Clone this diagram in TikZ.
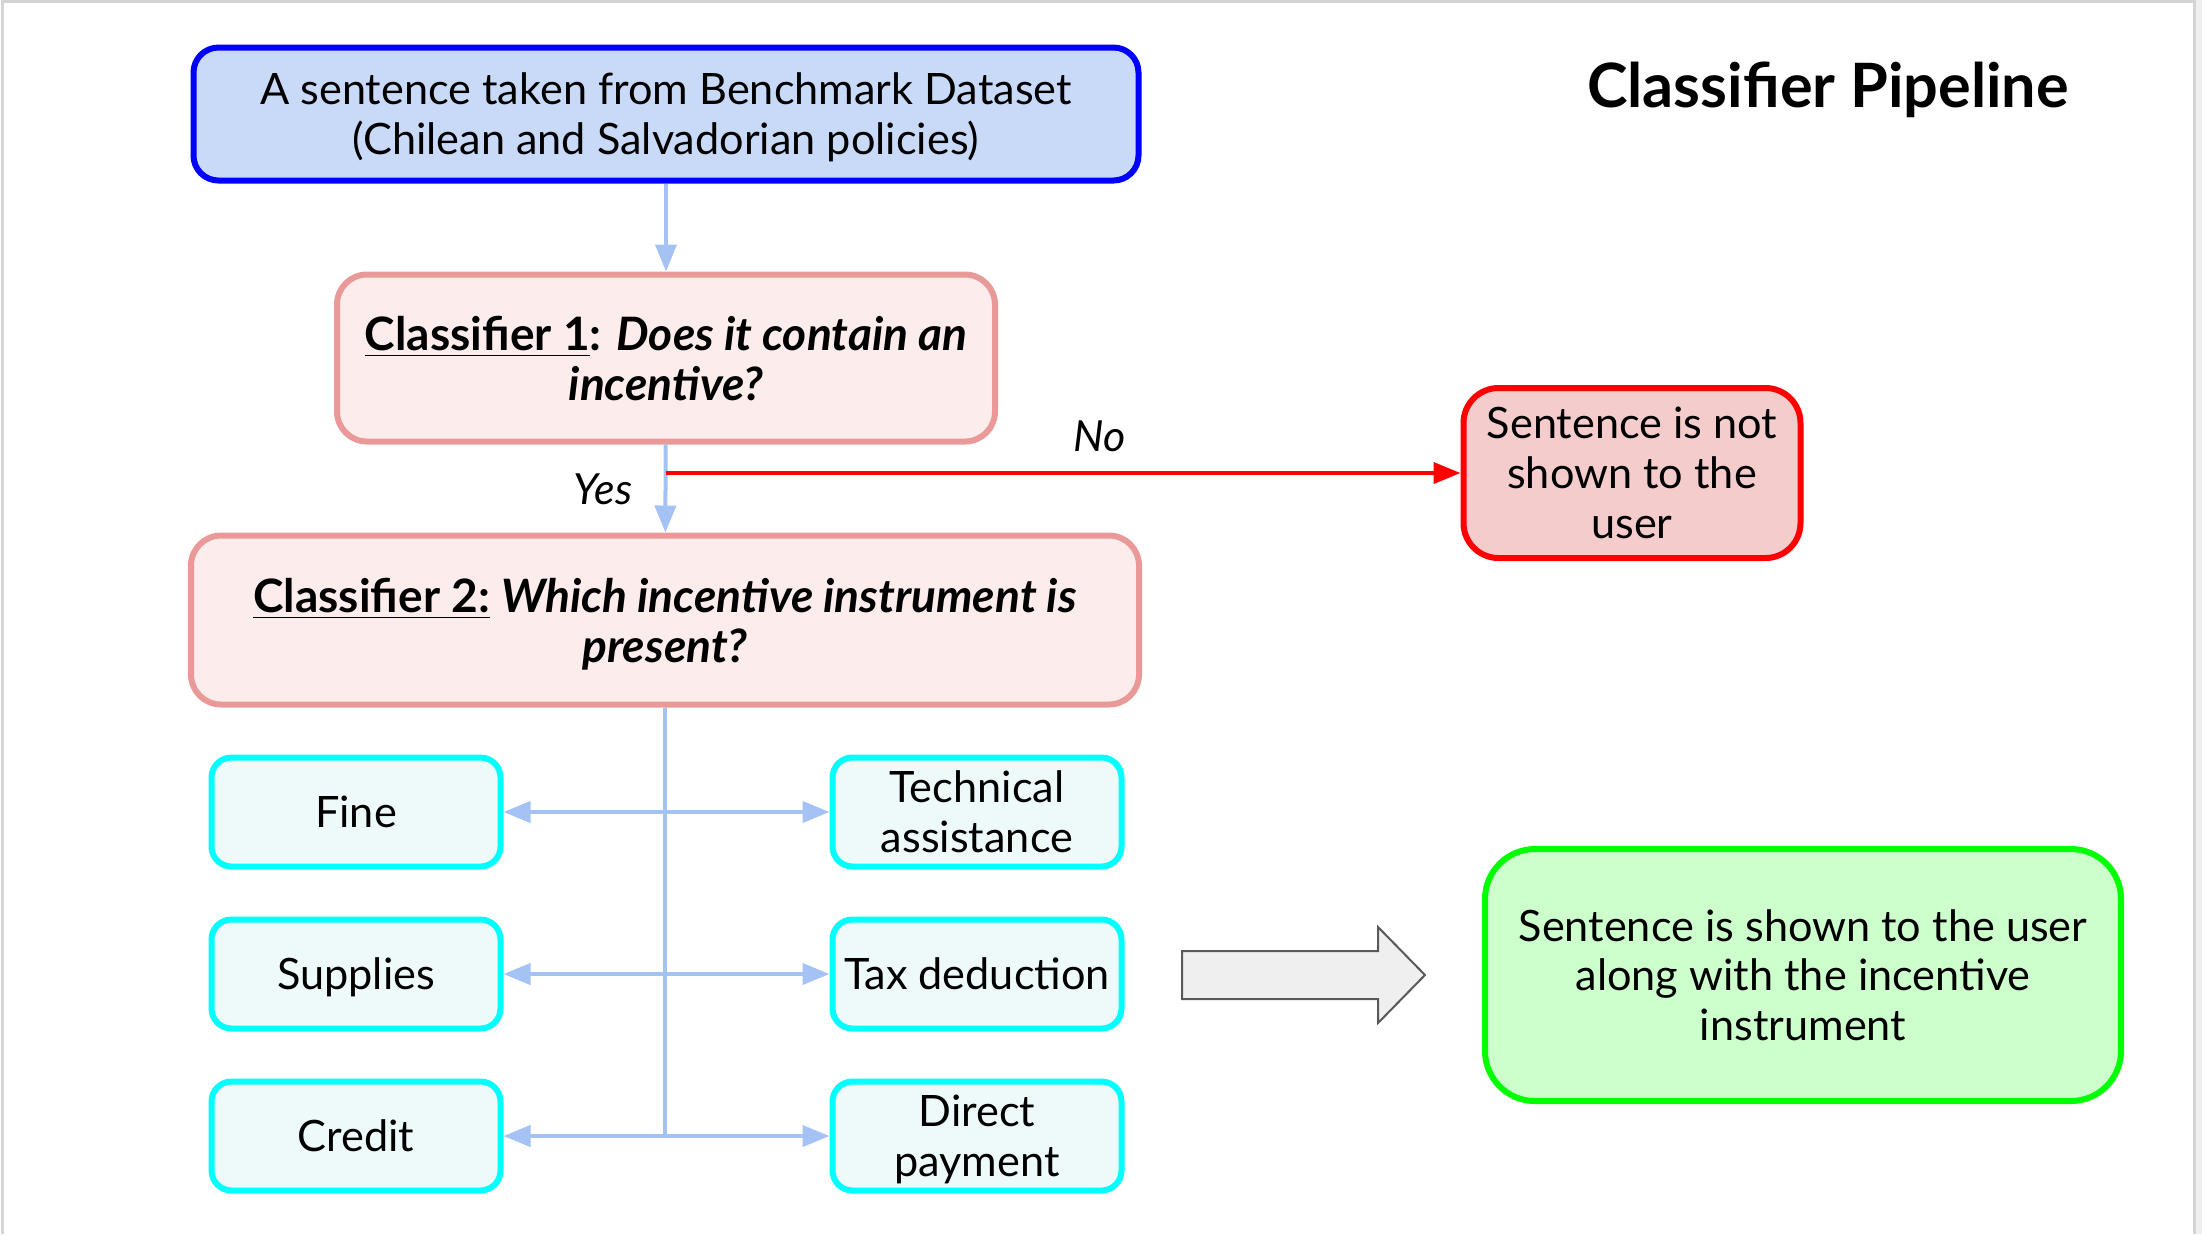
\documentclass[tikz,border=0pt]{standalone}
\usepackage{fontspec}
\setmainfont{Lato}
\usetikzlibrary{arrows.meta}

\definecolor{srcfill}{HTML}{C9DAF8}
\definecolor{srcedge}{HTML}{0000FF}
\definecolor{clffill}{HTML}{FCECEC}
\definecolor{clfedge}{HTML}{EA9999}
\definecolor{rejfill}{HTML}{F4CCCC}
\definecolor{rejedge}{HTML}{FF0000}
\definecolor{insfill}{HTML}{EEFAFA}
\definecolor{insedge}{HTML}{00FFFF}
\definecolor{accfill}{HTML}{CCFFCC}
\definecolor{accedge}{HTML}{00FF00}
\definecolor{flowblue}{HTML}{A4C2F4}
\definecolor{bigarrow}{HTML}{EFEFEF}
\definecolor{bigarrowedge}{HTML}{595959}
\definecolor{framegray}{HTML}{D4D4D4}

\tikzset{
  box/.style={draw, line width=0.06cm, align=center, inner sep=0pt,
    font=\fontsize{12.3}{14.2}\selectfont, text depth=-1.1pt},
  srcbox/.style={box, fill=srcfill, draw=srcedge, rounded corners=0.25cm},
  clfbox/.style={box, fill=clffill, draw=clfedge, rounded corners=0.3cm,
    font=\fontsize{13.1}{14.2}\selectfont, text depth=-0.4pt},
  rejbox/.style={box, fill=rejfill, draw=rejedge, rounded corners=0.35cm},
  insbox/.style={box, fill=insfill, draw=insedge, rounded corners=0.2cm,
    minimum width=2.89cm, minimum height=1.09cm},
  accbox/.style={box, fill=accfill, draw=accedge, rounded corners=0.5cm},
  flow/.style={draw=flowblue, line width=0.04cm,
    -{Triangle[length=0.27cm,width=0.21cm]}},
  both/.style={flow, {Triangle[length=0.27cm,width=0.21cm]}-{Triangle[length=0.27cm,width=0.21cm]}},
  lbl/.style={font=\fontsize{12.2}{14.2}\selectfont\itshape}
}

\begin{document}
\begin{tikzpicture}
\useasboundingbox (0,0) rectangle (22.02,-12.34);
% page frame
\fill[bigarrow] (21.955,0) rectangle (22.02,-12.34);
\draw[framegray, line width=0.03cm] (0.025,-12.34) -- (0.025,-0.015) -- (21.94,-0.015) -- (21.94,-12.34);

\node[font=\fontsize{17.4}{20}\selectfont\bfseries] (title) at (18.28,-0.90) {Classifier Pipeline};

\node[srcbox, minimum width=9.45cm, minimum height=1.33cm] (src) at (6.66,-1.14)
  {A sentence taken from Benchmark Dataset\\(Chilean and Salvadorian policies)};
\node[clfbox, minimum width=6.58cm, minimum height=1.67cm] (clf1) at (6.66,-3.58)
  {\textbf{\underline{Classifier 1}: \textit{Does it contain an}}\\\textbf{\textit{incentive?}}};
\node[clfbox, minimum width=9.48cm, minimum height=1.69cm] (clf2) at (6.65,-6.20)
  {\textbf{\underline{Classifier 2:} \textit{Which incentive instrument is}}\\\textbf{\textit{present?}}};
\node[rejbox, minimum width=3.37cm, minimum height=1.70cm] (rej) at (16.32,-4.73)
  {Sentence is not\\shown to the\\user};

% instruments
\node[insbox] (fine) at (3.56,-8.12) {Fine};
\node[insbox] (tech) at (9.77,-8.12) {Technical\\assistance};
\node[insbox] (supp) at (3.56,-9.74) {Supplies};
\node[insbox] (tax) at (9.77,-9.74) {Tax deduction};
\node[insbox] (cred) at (3.56,-11.36) {Credit};
\node[insbox] (pay) at (9.77,-11.36) {Direct\\payment};

\node[accbox, minimum width=6.36cm, minimum height=2.52cm] (acc) at (18.03,-9.75)
  {Sentence is shown to the user\\along with the incentive\\instrument};

\draw[flow] (src) -- (clf1);
\draw[flow] (clf1) -- (clf2);
\draw[rejedge, line width=0.04cm, -{Triangle[length=0.27cm,width=0.21cm]}]
  (clf1.south |- rej.west) -- (rej.west);
\node[lbl] (yes) at (6.03,-4.89) {Yes};
\node[lbl] (no) at (11.00,-4.36) {No};

\draw[flowblue, line width=0.04cm] (clf2.south) -- (clf2.south |- cred.east);
\draw[both] (fine) -- (tech);
\draw[both] (supp) -- (tax);
\draw[both] (cred) -- (pay);

% hollow arrow
\draw[fill=bigarrow, draw=bigarrowedge, line width=0.02cm] (11.82,-9.51) -- (13.78,-9.51)
  -- (13.78,-9.27) -- (14.25,-9.75) -- (13.78,-10.23) -- (13.78,-9.99) -- (11.82,-9.99) -- cycle;
\end{tikzpicture}
\end{document}
